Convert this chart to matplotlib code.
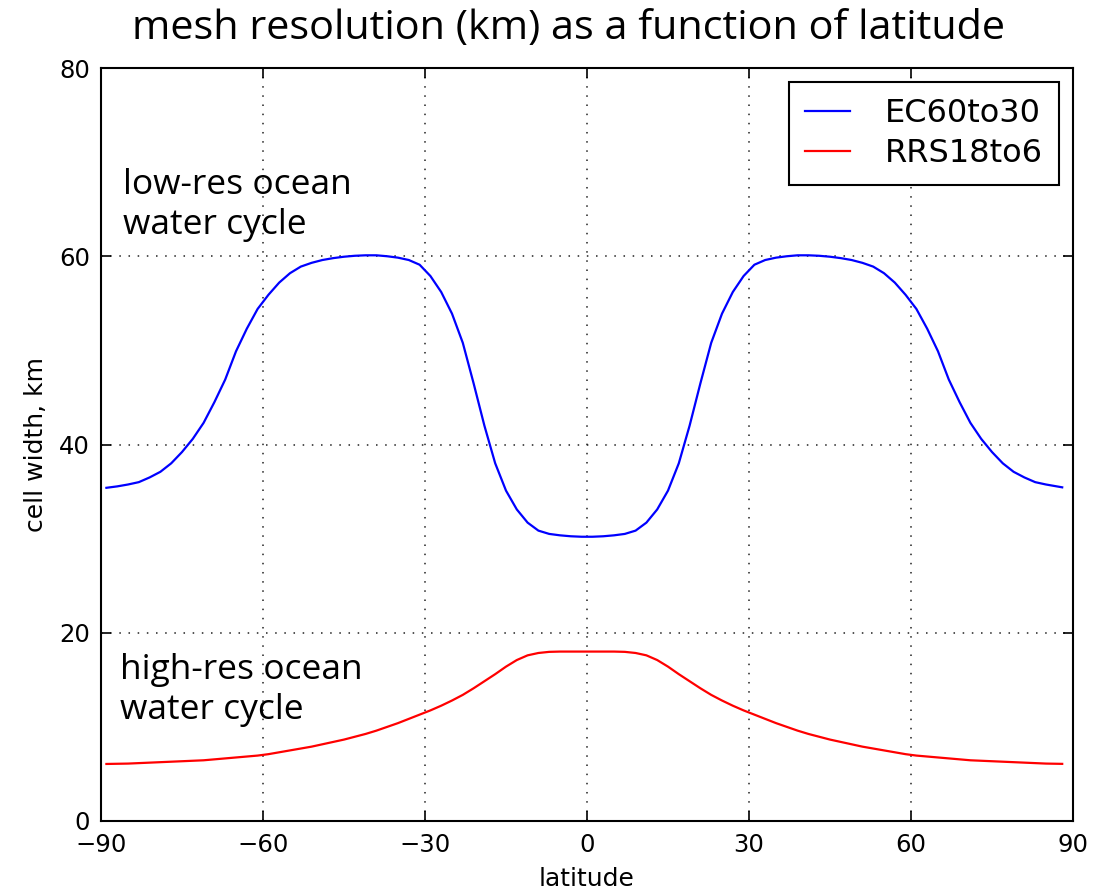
import matplotlib
matplotlib.use("Agg")
import matplotlib.pyplot as plt

# latitude samples (degrees)
lat = [-89, -87, -85, -83, -81, -79, -77, -75, -73, -71, -69, -67, -65, -63,
       -61, -59, -57, -55, -53, -51, -49, -47, -45, -43, -41, -39, -37, -35,
       -33, -31, -29, -27, -25, -23, -21, -19, -17, -15, -13, -11, -9, -7,
       -5, -3, -1,
       1, 3, 5, 7, 9, 11, 13, 15, 17, 19, 21, 23, 25, 27, 29, 31, 33, 35,
       37, 39, 41, 43, 45, 47, 49, 51, 53, 55, 57, 59, 61, 63, 65, 67, 69,
       71, 73, 75, 77, 79, 81, 83, 85, 87, 88]

# EC60to30 cell width (km)
ec60to30 = [35.4, 35.55, 35.75, 36.0, 36.5, 37.1, 38.0, 39.2, 40.6, 42.3,
            44.5, 46.9, 49.9, 52.3, 54.4, 55.9, 57.2, 58.2, 58.9, 59.3,
            59.6, 59.8, 59.95, 60.05, 60.1, 60.1, 60.0, 59.85, 59.6, 59.1,
            57.9, 56.2, 53.9, 50.8, 46.5, 42.0, 38.0, 35.1, 33.1, 31.7,
            30.85, 30.5, 30.35, 30.25, 30.2,
            30.2, 30.25, 30.35, 30.5, 30.85, 31.7, 33.1, 35.1, 38.0, 42.0,
            46.5, 50.8, 53.9, 56.2, 57.9, 59.1, 59.6, 59.85, 60.0, 60.1,
            60.1, 60.05, 59.95, 59.8, 59.6, 59.3, 58.9, 58.2, 57.2, 55.9,
            54.4, 52.3, 49.9, 46.9, 44.5, 42.3, 40.6, 39.2, 38.0, 37.1,
            36.5, 36.0, 35.75, 35.55, 35.45]

# RRS18to6 cell width (km)
rrs18to6 = [6.06, 6.08, 6.1, 6.15, 6.2, 6.25, 6.3, 6.35, 6.4, 6.45,
            6.55, 6.65, 6.75, 6.85, 6.95, 7.1, 7.3, 7.5, 7.7, 7.9,
            8.15, 8.4, 8.65, 8.95, 9.25, 9.6, 10.0, 10.4, 10.85, 11.3,
            11.75, 12.25, 12.8, 13.4, 14.1, 14.85, 15.6, 16.4, 17.1, 17.6,
            17.85, 17.97, 18.0, 18.0, 18.0,
            18.0, 18.0, 18.0, 17.97, 17.85, 17.6, 17.1, 16.4, 15.6, 14.85,
            14.1, 13.4, 12.8, 12.25, 11.75, 11.3, 10.85, 10.4, 10.0, 9.6,
            9.25, 8.95, 8.65, 8.4, 8.15, 7.9, 7.7, 7.5, 7.3, 7.1,
            6.95, 6.85, 6.75, 6.65, 6.55, 6.45, 6.4, 6.35, 6.3, 6.25,
            6.2, 6.15, 6.1, 6.08, 6.07]

series_labels = ["EC60to30", "RRS18to6"]
xticks = [-90, -60, -30, 0, 30, 60, 90]
yticks = [0, 20, 40, 60, 80]

plt.rcParams['font.family'] = ['DejaVu Sans']
plt.rcParams['axes.unicode_minus'] = True

fig = plt.figure(figsize=(10.96, 8.93), dpi=100)
fig.patch.set_facecolor('white')
ax = fig.add_axes([101/1096, 1 - 821/893, (1073 - 101)/1096, (821 - 68)/893])

ax.plot(lat, ec60to30, color='#0000ff', lw=1.6, label=series_labels[0])
ax.plot(lat, rrs18to6, color='#ff0000', lw=1.6, label=series_labels[1])

ax.set_xlim(-90, 90)
ax.set_ylim(0, 80)
ax.set_xticks(xticks)
ax.set_yticks(yticks)
ax.grid(True, color='#222222', linestyle=(0, (1, 5)), linewidth=1.1)
ax.tick_params(direction='in', top=True, right=True, length=7.5, width=1.2,
               labelsize=17.5)
ax.tick_params(axis='x', pad=9)
ax.tick_params(axis='y', pad=8)
for s in ax.spines.values():
    s.set_linewidth(1.5)

ax.set_xlabel('latitude', fontsize=18, labelpad=7)
ax.set_ylabel('cell width, km', fontsize=18, labelpad=8)

leg = ax.legend(loc='upper right', fontsize=23, handlelength=1.4,
                handletextpad=1.1, borderpad=0.5, labelspacing=0.28,
                fancybox=False, framealpha=1, edgecolor='black',
                borderaxespad=0.45)
leg.get_frame().set_linewidth(1.5)

fig.text(568/1096, 1 - 29/893, 'mesh resolution (km) as a function of latitude',
         ha='center', va='center', fontsize=29.8, family='Open Sans')

ax.text(-85.9, 69.4, 'low-res ocean\nwater cycle', fontsize=25.5, family='Open Sans',
        ha='left', va='top', linespacing=1.25)
ax.text(-86.5, 17.9, 'high-res ocean\nwater cycle', fontsize=25.5, family='Open Sans',
        ha='left', va='top', linespacing=1.25)

fig.savefig('out.png', dpi=100, facecolor='white')
